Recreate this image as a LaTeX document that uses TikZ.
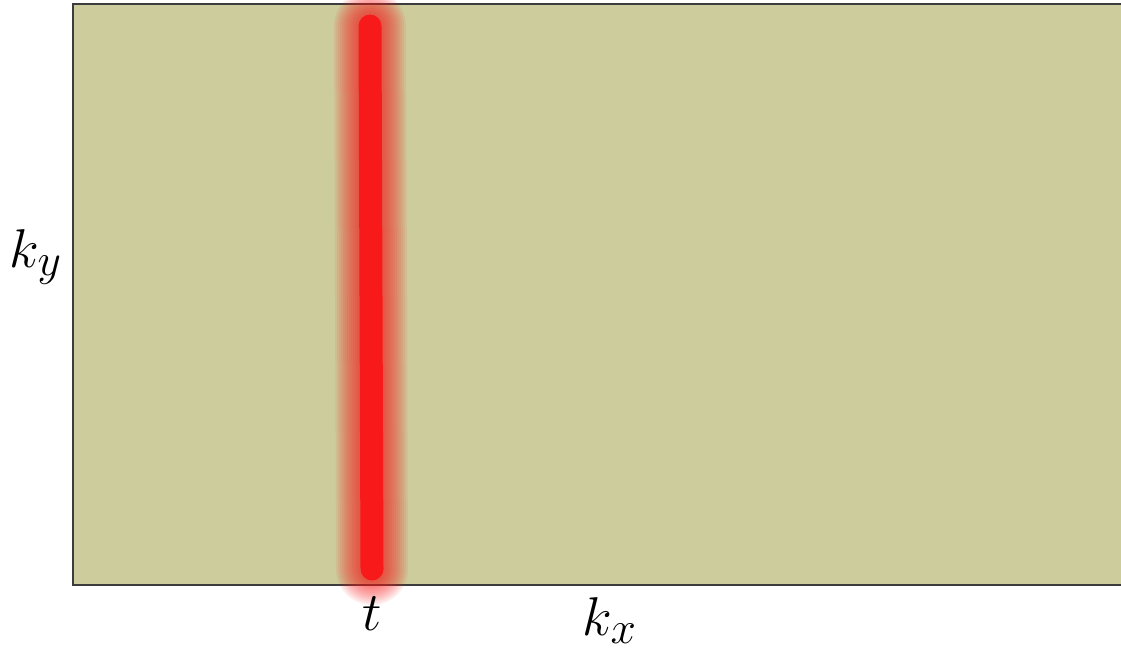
\documentclass[tikz,border=0pt]{standalone}
\usepackage{graphicx}
\usepackage{tikz}
\usetikzlibrary{positioning}
\definecolor{kspace}{RGB}{205,204,157}
\definecolor{hotred}{RGB}{248,26,26}
\definecolor{frame}{RGB}{60,60,60}
\newcommand{\biglbl}[1]{\scalebox{1.25}{\Huge$#1$}}

\begin{document}
\begin{tikzpicture}[x=0.02cm, y=-0.02cm,
      plane/.style={draw=frame, line width=1.1pt},
      trace/.style={draw=hotred, line cap=round},
      lbl/.style={anchor=base, inner sep=0pt}
    ]
      \useasboundingbox (0,0) rectangle (1121,650);
      % k-space plane, right side runs off the page
      \fill[kspace] (73,4) rectangle (1121,585);
      \draw[plane] (1125,4) -- (73,4) -- (73,585) -- (1125,585);
      % sampled line at time t, soft glow then core
      \coordinate (tTop) at (370,26);
      \coordinate (tBot) at (372,569);
      \foreach \w in {72,68,...,28}
        \draw[trace, line width=\w*0.02cm, opacity=0.08] (tTop) -- (tBot);
      \draw[trace, line width=23*0.02cm] (tTop) -- (tBot);
      % axis labels
      \node[lbl] (ky) at (36,267) {\biglbl{k_y}};
      \node[lbl] (tl) at (372,630) {\biglbl{t}};
      \node[lbl] (kx) at (610,635) {\biglbl{k_x}};
    \end{tikzpicture}
\end{document}
